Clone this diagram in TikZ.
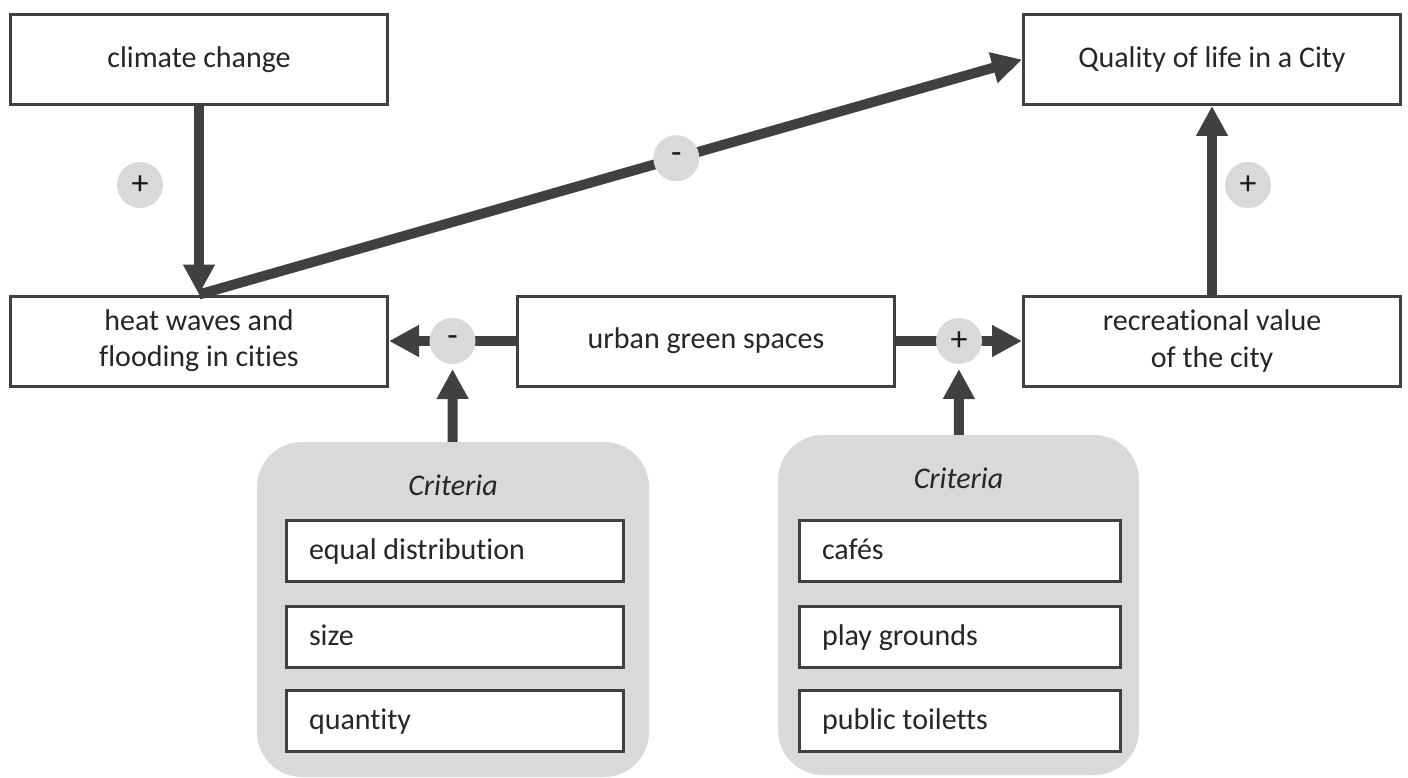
\documentclass[tikz,border=0pt]{standalone}
\usepackage{fontspec}
\setmainfont[Ligatures=NoCommon]{Carlito}
\usetikzlibrary{arrows.meta,calc}
\definecolor{dgray}{HTML}{404040}
\definecolor{lgray}{HTML}{D9D9D9}

\begin{document}
\begin{tikzpicture}[x=1pt,y=-1pt,
    box/.style={draw=dgray,line width=3pt,fill=white,minimum width=377pt,minimum height=90pt,align=center,text=black!85,font=\fontsize{30}{36}\selectfont},
    item/.style={draw=dgray,line width=3pt,fill=white,anchor=west,minimum height=61pt,text width=#1,inner xsep=23pt,align=flush left,text height=22pt,text depth=5pt,text=black!85,font=\fontsize{30}{36}\selectfont},
    group/.style={fill=lgray,rounded corners=45pt,inner sep=0pt},
    sign/.style={circle,fill=lgray,minimum size=46pt,inner sep=0pt,text=black!90,font=\fontsize{34}{34}\selectfont},
    link/.style={draw=dgray,line width=10pt,-{Triangle[length=30pt,width=30pt]}}]

    \useasboundingbox (0,0) rectangle (1408,778);

    % top and middle row
    \node[box] (bClim) at (199,59.5) {climate change};
    \node[box] (bQual) at (1212,59.5) {Quality of life in a City};
    \node[box] (bHeat) at (199,341) {heat waves and\\flooding in cities};
    \node[box] (bGreen) at (706,341) {urban green spaces};
    \node[box] (bRec) at (1212,341) {recreational value\\of the city};

    % criteria groups
    \node[group,minimum width=392pt,minimum height=335pt] (gL) at (453,609.5) {};
    \node[group,minimum width=361pt,minimum height=340pt] (gR) at (958.5,605) {};
    \node[text=black!85,font=\fontsize{30}{36}\selectfont\itshape] (tL) at ($(gL.north)+(0,43)$) {Criteria};
    \node[text=black!85,font=\fontsize{30}{36}\selectfont\itshape] (tR) at ($(gR.north)+(0,43)$) {Criteria};

    \node[item=291pt] (iL1) at (284.5,551) {equal distribution};
    \node[item=291pt] (iL2) at (284.5,636.5) {size};
    \node[item=291pt] (iL3) at (284.5,721) {quantity};
    \node[item=275pt] (iR1) at (797.5,551) {cafés};
    \node[item=275pt] (iR2) at (797.5,636.5) {play grounds};
    \node[item=275pt] (iR3) at (797.5,721) {public toiletts};

    % links
    \draw[link] (bClim) -- (bHeat);
    \draw[link] (bHeat.north) -- node[sign,pos=0.58] (sD) {-} (bQual.west);
    \draw[link] (bRec) -- (bQual);
    \draw[link] (bGreen) -- node[sign] (sL) {-} (bHeat);
    \draw[link] (bGreen) -- node[sign] (sR) {+} (bRec);
    \draw[link] (gL) -- (sL);
    \draw[link] (gR) -- (sR);

    \node[sign] (sA) at (140,185) {+};
    \node[sign] (sB) at (1248,185) {+};
  \end{tikzpicture}
\end{document}
